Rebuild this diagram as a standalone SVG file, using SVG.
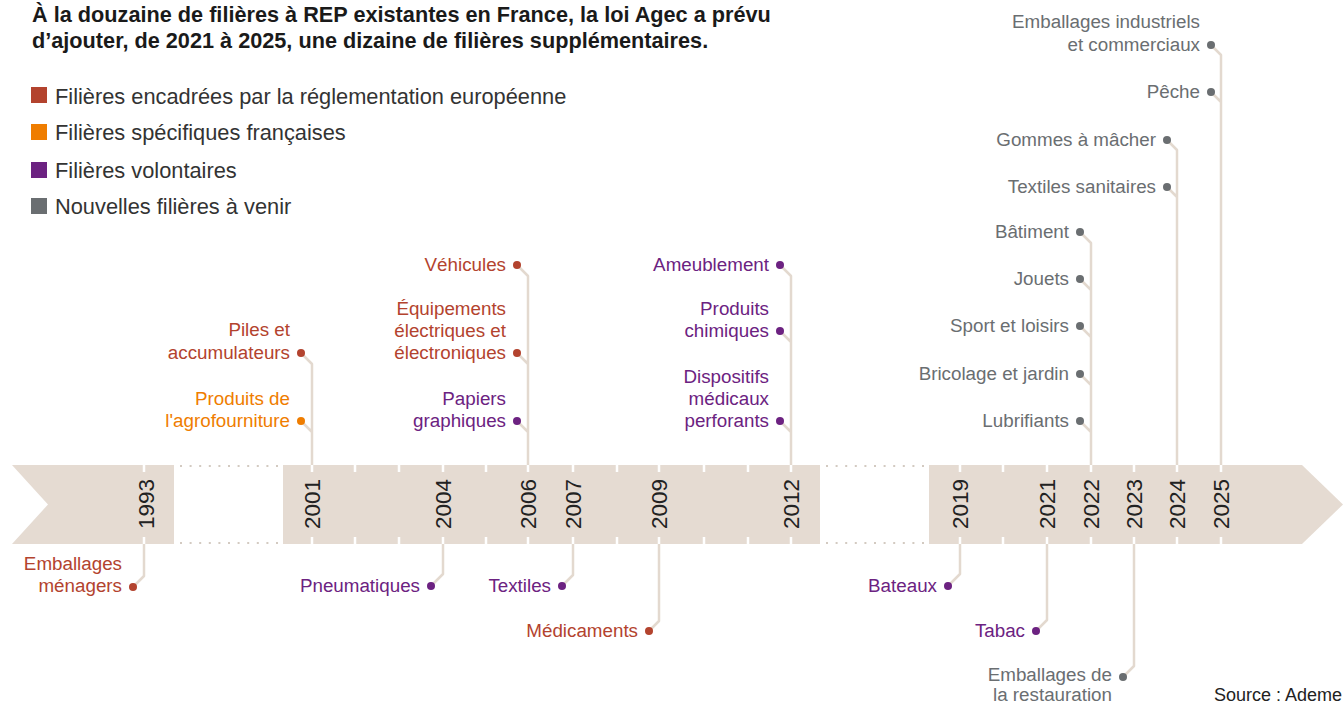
<svg xmlns="http://www.w3.org/2000/svg" width="1343" height="704" viewBox="0 0 1343 704">
<style>
text{font-family:"Liberation Sans",Arial,sans-serif}
.title{font-size:21.7px;font-weight:bold;fill:#1a1a1a}
.leg{font-size:21.8px;fill:#333}
.lbl{font-size:18.8px;text-anchor:end}
.yr{font-size:22.5px;fill:#222;text-anchor:middle}
.red{fill:#b3432e}
.ora{fill:#ef7d00}
.pur{fill:#6c2281}
.gry{fill:#6a6e71}
.band{fill:#e5dbd2}
.tick{fill:#ffffff}
.dots{stroke:#d3cac1;stroke-width:2;stroke-dasharray:2 7.6;fill:none}
.conn{fill:none;stroke:#e3d9cf;stroke-width:2.5;stroke-linejoin:round}
</style>
<defs>
<rect id="tk" x="-1.25" y="0" width="2.5" height="7" class="tick"/>
</defs>
<rect width="1343" height="704" fill="#ffffff"/>

<g id="title">
<text class="title" x="32" y="22">À la douzaine de filières à REP existantes en France, la loi Agec a prévu</text>
<text class="title" x="32" y="47.5">d’ajouter, de 2021 à 2025, une dizaine de filières supplémentaires.</text>
</g>

<g id="legend">
<rect x="31" y="87" width="16" height="16" class="red"/>
<text class="leg" x="55" y="104">Filières encadrées par la réglementation européenne</text>
<rect x="31" y="124" width="16" height="16" class="ora"/>
<text class="leg" x="55" y="140">Filières spécifiques françaises</text>
<rect x="31" y="162" width="16" height="16" class="pur"/>
<text class="leg" x="55" y="178">Filières volontaires</text>
<rect x="31" y="198" width="16" height="16" class="gry"/>
<text class="leg" x="55" y="214">Nouvelles filières à venir</text>
</g>

<g id="timeline">
<polygon class="band" points="12,465 174,465 174,544 12,544 48,504.5"/>
<rect class="band" x="283" y="465" width="537" height="79"/>
<polygon class="band" points="929,465 1302,465 1343,504.5 1302,544 929,544"/>
<path class="dots" d="M180,466 H280 M180,543 H280 M826,466 H926 M826,543 H926"/>
<g id="ticks">
<use href="#tk" x="144" y="465"/><use href="#tk" x="144" y="537"/>
<use href="#tk" x="312" y="465"/><use href="#tk" x="312" y="537"/>
<use href="#tk" x="355" y="465"/><use href="#tk" x="355" y="537"/>
<use href="#tk" x="399" y="465"/><use href="#tk" x="399" y="537"/>
<use href="#tk" x="443" y="465"/><use href="#tk" x="443" y="537"/>
<use href="#tk" x="486" y="465"/><use href="#tk" x="486" y="537"/>
<use href="#tk" x="528" y="465"/><use href="#tk" x="528" y="537"/>
<use href="#tk" x="573" y="465"/><use href="#tk" x="573" y="537"/>
<use href="#tk" x="617" y="465"/><use href="#tk" x="617" y="537"/>
<use href="#tk" x="659" y="465"/><use href="#tk" x="659" y="537"/>
<use href="#tk" x="704" y="465"/><use href="#tk" x="704" y="537"/>
<use href="#tk" x="748" y="465"/><use href="#tk" x="748" y="537"/>
<use href="#tk" x="791" y="465"/><use href="#tk" x="791" y="537"/>
<use href="#tk" x="960" y="465"/><use href="#tk" x="960" y="537"/>
<use href="#tk" x="1003" y="465"/><use href="#tk" x="1003" y="537"/>
<use href="#tk" x="1047" y="465"/><use href="#tk" x="1047" y="537"/>
<use href="#tk" x="1091" y="465"/><use href="#tk" x="1091" y="537"/>
<use href="#tk" x="1134" y="465"/><use href="#tk" x="1134" y="537"/>
<use href="#tk" x="1177" y="465"/><use href="#tk" x="1177" y="537"/>
<use href="#tk" x="1221" y="465"/><use href="#tk" x="1221" y="537"/>
</g>
<g id="years">
<text class="yr" transform="translate(154,504) rotate(-90)">1993</text>
<text class="yr" transform="translate(320,504) rotate(-90)">2001</text>
<text class="yr" transform="translate(451,504) rotate(-90)">2004</text>
<text class="yr" transform="translate(536,504) rotate(-90)">2006</text>
<text class="yr" transform="translate(581,504) rotate(-90)">2007</text>
<text class="yr" transform="translate(667,504) rotate(-90)">2009</text>
<text class="yr" transform="translate(799,504) rotate(-90)">2012</text>
<text class="yr" transform="translate(968,504) rotate(-90)">2019</text>
<text class="yr" transform="translate(1055,504) rotate(-90)">2021</text>
<text class="yr" transform="translate(1099,504) rotate(-90)">2022</text>
<text class="yr" transform="translate(1142,504) rotate(-90)">2023</text>
<text class="yr" transform="translate(1185,504) rotate(-90)">2024</text>
<text class="yr" transform="translate(1229,504) rotate(-90)">2025</text>
</g>
</g>

<g id="connectors">
<path class="conn" d="M1211,45 L1221,55 V465 M1211,92 L1221,102"/>
<path class="conn" d="M1167,140 L1177,150 V465 M1167,187 L1177,197"/>
<path class="conn" d="M1080,232 L1091,243 V465 M1080,279 L1091,290 M1080,326 L1091,337 M1080,374 L1091,385 M1080,421 L1091,432"/>
<path class="conn" d="M780,265 L791,276 V465 M780,331 L791,342 M780,421 L791,432"/>
<path class="conn" d="M517,265 L528,276 V465 M517,353 L528,364 M517,421 L528,432"/>
<path class="conn" d="M301,353 L312,364 V465 M301,421 L312,432"/>
<path class="conn" d="M133,587 L144,576 V544"/>
<path class="conn" d="M431,586 L443,574 V544"/>
<path class="conn" d="M562,586 L573,575 V544"/>
<path class="conn" d="M649,631 L659,621 V544"/>
<path class="conn" d="M948,586 L960,574 V544"/>
<path class="conn" d="M1036,631 L1047,620 V544"/>
<path class="conn" d="M1123,677 L1134,666 V544"/>
</g>

<g id="n-emb-ind"><text class="lbl gry" x="1200" y="28">Emballages industriels</text><text class="lbl gry" x="1200" y="51">et commerciaux</text><circle cx="1211" cy="45" r="4" class="gry"/></g>
<g id="n-peche"><text class="lbl gry" x="1200" y="98">Pêche</text><circle cx="1211" cy="92" r="4" class="gry"/></g>
<g id="n-gommes"><text class="lbl gry" x="1156" y="146">Gommes à mâcher</text><circle cx="1167" cy="140" r="4" class="gry"/></g>
<g id="n-textsan"><text class="lbl gry" x="1156" y="193">Textiles sanitaires</text><circle cx="1167" cy="187" r="4" class="gry"/></g>
<g id="n-batiment"><text class="lbl gry" x="1069" y="238">Bâtiment</text><circle cx="1080" cy="232" r="4" class="gry"/></g>
<g id="n-jouets"><text class="lbl gry" x="1069" y="285">Jouets</text><circle cx="1080" cy="279" r="4" class="gry"/></g>
<g id="n-sport"><text class="lbl gry" x="1069" y="332">Sport et loisirs</text><circle cx="1080" cy="326" r="4" class="gry"/></g>
<g id="n-bricolage"><text class="lbl gry" x="1069" y="380">Bricolage et jardin</text><circle cx="1080" cy="374" r="4" class="gry"/></g>
<g id="n-lubrifiants"><text class="lbl gry" x="1069" y="427">Lubrifiants</text><circle cx="1080" cy="421" r="4" class="gry"/></g>

<g id="n-ameublement"><text class="lbl pur" x="769" y="271">Ameublement</text><circle cx="780" cy="265" r="4" class="pur"/></g>
<g id="n-chimiques"><text class="lbl pur" x="769" y="315">Produits</text><text class="lbl pur" x="769" y="337">chimiques</text><circle cx="780" cy="331" r="4" class="pur"/></g>
<g id="n-dispositifs"><text class="lbl pur" x="769" y="383">Dispositifs</text><text class="lbl pur" x="769" y="405">médicaux</text><text class="lbl pur" x="769" y="427">perforants</text><circle cx="780" cy="421" r="4" class="pur"/></g>

<g id="n-vehicules"><text class="lbl red" x="506" y="271">Véhicules</text><circle cx="517" cy="265" r="4" class="red"/></g>
<g id="n-deee"><text class="lbl red" x="506" y="315">Équipements</text><text class="lbl red" x="506" y="337">électriques et</text><text class="lbl red" x="506" y="359">électroniques</text><circle cx="517" cy="353" r="4" class="red"/></g>
<g id="n-papiers"><text class="lbl pur" x="506" y="405">Papiers</text><text class="lbl pur" x="506" y="427">graphiques</text><circle cx="517" cy="421" r="4" class="pur"/></g>

<g id="n-piles"><text class="lbl red" x="290" y="336">Piles et</text><text class="lbl red" x="290" y="359">accumulateurs</text><circle cx="301" cy="353" r="4" class="red"/></g>
<g id="n-agro"><text class="lbl ora" x="290" y="405">Produits de</text><text class="lbl ora" x="290" y="427">l'agrofourniture</text><circle cx="301" cy="421" r="4" class="ora"/></g>

<g id="n-emb-men"><text class="lbl red" x="122" y="570">Emballages</text><text class="lbl red" x="122" y="592">ménagers</text><circle cx="133" cy="587" r="4" class="red"/></g>
<g id="n-pneu"><text class="lbl pur" x="420" y="592">Pneumatiques</text><circle cx="431" cy="586" r="4" class="pur"/></g>
<g id="n-textiles"><text class="lbl pur" x="551" y="592">Textiles</text><circle cx="562" cy="586" r="4" class="pur"/></g>
<g id="n-medic"><text class="lbl red" x="638" y="637">Médicaments</text><circle cx="649" cy="631" r="4" class="red"/></g>
<g id="n-bateaux"><text class="lbl pur" x="937" y="592">Bateaux</text><circle cx="948" cy="586" r="4" class="pur"/></g>
<g id="n-tabac"><text class="lbl pur" x="1025" y="637">Tabac</text><circle cx="1036" cy="631" r="4" class="pur"/></g>
<g id="n-emb-resto"><text class="lbl gry" x="1112" y="681">Emballages de</text><text class="lbl gry" x="1112" y="701">la restauration</text><circle cx="1123" cy="677" r="4" class="gry"/></g>

<text id="source" x="1214" y="701" style="font-size:18px;fill:#222">Source : Ademe</text>
</svg>
